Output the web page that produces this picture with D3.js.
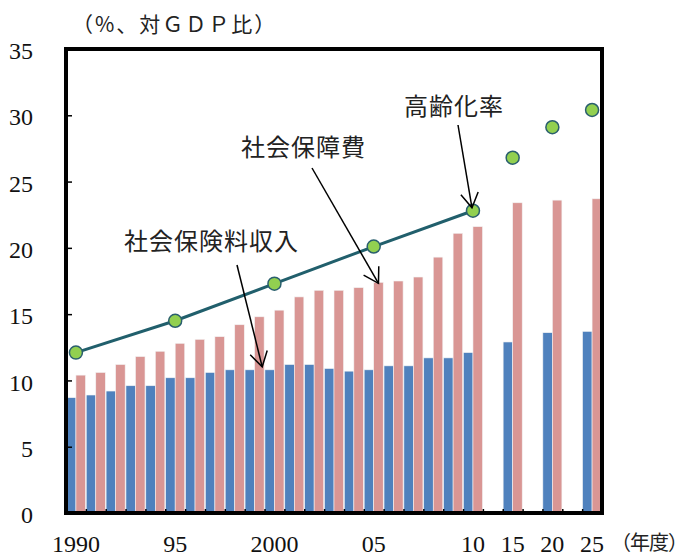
<!DOCTYPE html>
<html>
<head>
<meta charset="utf-8">
<script src="https://cdn.jsdelivr.net/npm/d3@7"></script>
<style>
  body { margin: 0; background: #fff; }
  svg { display: block; }
  .num { font-family: "Liberation Serif", "DejaVu Serif", serif; font-size: 24px; fill: #111; }
  .jp { font-family: "Noto Sans CJK JP", sans-serif; fill: #222; }
</style>
</head>
<body>
<div class="viz"></div>
<script>
const width = 690, height = 556;
const plot = { left: 66, right: 602, top: 49, bottom: 513 };

// fiscal years shown as bars
const years = ["1990","1991","1992","1993","1994","1995","1996","1997","1998","1999",
  "2000","2001","2002","2003","2004","2005","2006","2007","2008","2009","2010",
  "2015","2020","2025"];
// 社会保険料収入 (blue)
const premiumIncome = [8.7, 8.9, 9.2, 9.6, 9.6, 10.2, 10.2, 10.6, 10.8, 10.8,
  10.8, 11.2, 11.2, 10.9, 10.7, 10.8, 11.1, 11.1, 11.7, 11.7, 12.1,
  12.9, 13.6, 13.7];
// 社会保障費 (pink)
const socialCost = [10.4, 10.6, 11.2, 11.8, 12.2, 12.8, 13.1, 13.3, 14.2, 14.8,
  15.3, 16.3, 16.8, 16.8, 17.0, 17.4, 17.5, 17.8, 19.3, 21.1, 21.6,
  23.4, 23.6, 23.7];
// 高齢化率
const agingYears = ["1990","1995","2000","2005","2010","2015","2020","2025"];
const agingRate = [12.1, 14.5, 17.3, 20.1, 22.8, 26.8, 29.1, 30.4];
const agingLineYears = ["1990","1995","2000","2005","2010"];

// x slots: gaps between 2010 / 2015 / 2020 / 2025
const slots = years.slice(0, 21).concat(["g1","2015","g2","2020","g3","2025"]);
const tickLabels = {"1990":"1990","1995":"95","2000":"2000","2005":"05","2010":"10",
  "2015":"15","2020":"20","2025":"25"};
const yTicks = [0, 5, 10, 15, 20, 25, 30, 35];

const svg = d3.select(".viz").append("svg")
  .attr("width", width).attr("height", height);

const x = d3.scaleBand().domain(slots).range([plot.left, plot.right]).paddingInner(0.04).paddingOuter(0.02);
const xSlot = d3.scaleBand().domain(slots).range([plot.left, plot.right]);
const xSub = d3.scaleBand().domain(["income","cost"]).range([0, x.bandwidth()]);
const y = d3.scaleLinear().domain([0, 35]).range([plot.bottom, plot.top]);

const rows = years.map((yr, i) => ({ year: yr, income: premiumIncome[i], cost: socialCost[i] }));
const colors = { income: "#4F81BD", cost: "#D99694" };

// bars
const groups = svg.append("g").attr("class", "bars")
  .selectAll("g").data(rows).join("g")
  .attr("transform", d => `translate(${x(d.year)},0)`);
groups.selectAll("rect")
  .data(d => ["income","cost"].map(k => ({ key: k, value: d[k] })))
  .join("rect")
  .attr("x", d => xSub(d.key))
  .attr("width", xSub.bandwidth())
  .attr("y", d => y(d.value))
  .attr("height", d => y(0) - y(d.value))
  .attr("fill", d => colors[d.key])
  .attr("stroke", "#f3f3f3")
  .attr("stroke-width", 0.6);

// y axis (inward ticks)
svg.append("g")
  .attr("transform", `translate(${plot.left},0)`)
  .call(d3.axisLeft(y).tickValues(yTicks).tickSizeInner(-6).tickSizeOuter(0).tickPadding(33))
  .call(g => g.select(".domain").remove())
  .call(g => g.selectAll("line").attr("stroke", "#000").attr("stroke-width", 1.5))
  .call(g => g.selectAll("text").attr("class", "num").attr("font-size", null)
    .attr("font-family", null).attr("dy", "0.4em"));

// x axis: ticks at slot boundaries, labels at selected years
const xEdge = d3.scaleLinear().domain([0, slots.length]).range([plot.left, plot.right]);
svg.append("g")
  .attr("transform", `translate(0,${plot.bottom})`)
  .call(d3.axisBottom(xEdge).tickValues(d3.range(1, slots.length)).tickSizeInner(-4).tickSizeOuter(0).tickFormat(""))
  .call(g => g.select(".domain").remove())
  .call(g => g.selectAll("line").attr("stroke", "#000").attr("stroke-width", 1.5));

svg.append("g").selectAll("text")
  .data(Object.keys(tickLabels)).join("text")
  .attr("class", "num")
  .attr("text-anchor", "middle")
  .attr("x", d => xSlot(d) + xSlot.bandwidth() / 2)
  .attr("y", 552)
  .text(d => tickLabels[d]);

// frame
svg.append("rect")
  .attr("x", plot.left).attr("y", plot.top)
  .attr("width", plot.right - plot.left).attr("height", plot.bottom - plot.top)
  .attr("fill", "none").attr("stroke", "#000").attr("stroke-width", 4);

// aging rate line + dots
const cx = d => xSlot(d) + xSlot.bandwidth() / 2;
const aging = agingYears.map((yr, i) => ({ year: yr, value: agingRate[i] }));
svg.append("path")
  .datum(aging.filter(d => agingLineYears.includes(d.year)))
  .attr("fill", "none")
  .attr("stroke", "#215F6C")
  .attr("stroke-width", 3)
  .attr("d", d3.line().x(d => cx(d.year)).y(d => y(d.value)));
svg.append("g").selectAll("circle")
  .data(aging).join("circle")
  .attr("cx", d => cx(d.year))
  .attr("cy", d => y(d.value))
  .attr("r", 6.5)
  .attr("fill", "#92D050")
  .attr("stroke", "#2A5F6E")
  .attr("stroke-width", 1.5);

// axis titles
svg.append("text").attr("class", "jp").attr("x", 72).attr("y", 32)
  .attr("font-size", 21).attr("letter-spacing", 2).text("（%、対ＧＤＰ比）");
svg.append("text").attr("class", "jp").attr("x", 611).attr("y", 550)
  .attr("font-size", 20).attr("letter-spacing", -1).text("（年度）");

// annotations
function arrow(x1, y1, x2, y2) {
  const a = Math.atan2(y1 - y2, x1 - x2), len = 17, spread = Math.PI / 180 * 31;
  const g = svg.append("g").attr("stroke", "#000").attr("stroke-width", 1.5).attr("fill", "none");
  g.append("line").attr("x1", x1).attr("y1", y1).attr("x2", x2).attr("y2", y2);
  g.append("path").attr("d",
    `M${x2 + len * Math.cos(a - spread)},${y2 + len * Math.sin(a - spread)}L${x2},${y2}L${x2 + len * Math.cos(a + spread)},${y2 + len * Math.sin(a + spread)}`);
}
function label(txt, lx, ly) {
  svg.append("text").attr("class", "jp").attr("x", lx).attr("y", ly)
    .attr("font-size", 24).attr("letter-spacing", 1).text(txt);
}

label("高齢化率", 404, 115);
arrow(458, 125, cx("2010") - 1, y(agingRate[4]) - 3);

label("社会保障費", 241, 156);
arrow(312, 168, x("2005") + xSub("cost") + xSub.bandwidth() / 2, y(socialCost[15]) + 1);

label("社会保険料収入", 124, 250);
arrow(237, 265, x("1999") + xSub("cost") + xSub.bandwidth() * 0.8, y(premiumIncome[9]) - 3);
</script>
</body>
</html>
